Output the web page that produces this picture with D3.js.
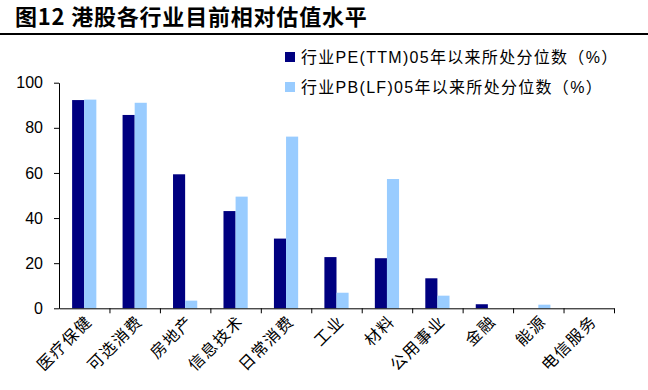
<!DOCTYPE html>
<html>
<head>
<meta charset="utf-8">
<script src="https://cdn.jsdelivr.net/npm/d3@7"></script>
<style>
  body { margin: 0; background: #fff; }
  svg { display: block; font-family: Arial, "Liberation Sans", "Noto Sans CJK SC", sans-serif; }
</style>
</head>
<body>
<svg id="chart"></svg>
<script>
// data
var categories = ['医疗保健', '可选消费', '房地产', '信息技术', '日常消费', '工业', '材料', '公用事业', '金融', '能源', '电信服务'];
var peValues = [92.3, 85.7, 59.4, 43.1, 30.9, 22.7, 22.2, 13.3, 1.8, 0, 0];
var pbValues = [92.5, 91.1, 3.4, 49.5, 76.1, 6.9, 57.3, 5.6, 0, 1.6, 0];
var seriesNames = ['行业PE(TTM)05年以来所处分位数（%）', '行业PB(LF)05年以来所处分位数（%）'];
var yTicks = [0, 20, 40, 60, 80, 100];

(function() {
  var width = 648, height = 390;
  var plotLeft = 59, plotRight = 614, plotTop = 82.7, plotBottom = 308.3;
  var colors = ['#000080', '#99ccff'];

  var svg = d3.select('#chart')
    .attr('width', width)
    .attr('height', height);

  // title
  svg.append('text')
    .attr('x', 15)
    .attr('y', 25)
    .style('font-family', '"Noto Sans CJK SC", sans-serif')
    .style('font-size', '22px')
    .style('font-weight', 'bold')
    .style('letter-spacing', '0.8px')
    .text('图12 港股各行业目前相对估值水平');

  svg.append('line')
    .attr('x1', 0).attr('x2', width)
    .attr('y1', 34).attr('y2', 34)
    .attr('stroke', '#000')
    .attr('stroke-width', 2);

  var xScale = d3.scaleBand()
    .domain(categories)
    .range([plotLeft, plotRight])
    .paddingInner(0.52)
    .paddingOuter(0.26);

  var xSub = d3.scaleBand()
    .domain([0, 1])
    .range([0, xScale.bandwidth()]);

  var yScale = d3.scaleLinear()
    .domain([0, 100])
    .range([plotBottom, plotTop]);

  // bars
  var groups = svg.selectAll('g.cat')
    .data(categories)
    .enter()
    .append('g')
      .attr('class', 'cat')
      .attr('transform', d => `translate(${xScale(d)},0)`);

  groups.selectAll('rect')
    .data((d, i) => [peValues[i], pbValues[i]])
    .enter()
    .append('rect')
      .attr('x', (d, j) => xSub(j))
      .attr('width', xSub.bandwidth())
      .attr('y', d => yScale(d))
      .attr('height', d => plotBottom - yScale(d))
      .attr('fill', (d, j) => colors[j]);

  // y axis
  var yAxis = d3.axisLeft(yScale)
    .tickValues(yTicks)
    .tickSize(5)
    .tickSizeOuter(0)
    .tickPadding(11);

  var gy = svg.append('g')
    .attr('transform', `translate(${plotLeft},0)`)
    .call(yAxis);
  gy.selectAll('text')
    .style('font-size', '16px')
    .attr('fill', '#000');

  // x axis, ticks on the band edges
  var xLine = d3.scaleLinear().domain([0, categories.length]).range([plotLeft, plotRight]);
  var gx = svg.append('g')
    .attr('transform', `translate(0,${plotBottom})`)
    .call(d3.axisBottom(xLine).ticks(categories.length).tickSize(5).tickSizeOuter(0).tickFormat(''));
  gx.selectAll('path, line').attr('stroke', '#000');
  gy.selectAll('path, line').attr('stroke', '#000');
  gx.select('.tick').remove();

  // x labels
  svg.selectAll('text.xlab')
    .data(categories)
    .enter()
    .append('text')
      .attr('class', 'xlab')
      .attr('text-anchor', 'end')
      .style('font-family', '"Noto Sans CJK SC", sans-serif')
      .style('font-size', '16px')
      .style('letter-spacing', '1.5px')
      .attr('transform', d => `translate(${xScale(d) + xScale.bandwidth() / 2 + 9},${plotBottom + 14}) rotate(-45)`)
      .text(d => d);

  // legend
  var legend = svg.selectAll('g.legend')
    .data(seriesNames)
    .enter()
    .append('g')
      .attr('class', 'legend')
      .attr('transform', (d, i) => `translate(285,${57 + i * 30})`);

  legend.append('rect')
    .attr('x', 0).attr('y', -5)
    .attr('width', 10).attr('height', 10)
    .attr('fill', (d, i) => colors[i]);

  legend.append('text')
    .attr('x', 16)
    .attr('y', 6)
    .style('font-size', '16px')
    .style('letter-spacing', '1.3px')
    .text(d => d);
})();
</script>
</body>
</html>
